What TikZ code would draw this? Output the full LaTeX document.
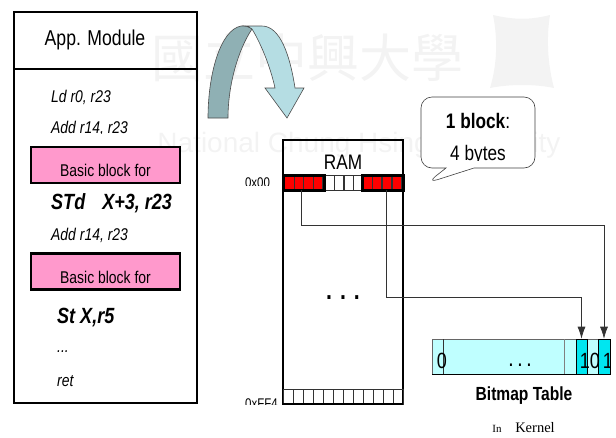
\documentclass[tikz,border=0pt]{standalone}
\usepackage{fontspec}
\setmainfont[FakeStretch=0.82]{Liberation Sans}
\newfontfamily\cjk{Noto Sans CJK TC}
\newfontfamily\markfont{Liberation Sans}
\newfontfamily\kernelfont{Liberation Serif}
\usetikzlibrary{shapes.callouts, arrows.meta, positioning, calc}

\definecolor{pinkfill}{HTML}{FF99CC}
\definecolor{bitfill}{HTML}{BFFFFF}
\definecolor{bitcell}{HTML}{00E6F0}
\definecolor{turnlight}{HTML}{B5DDE3}
\definecolor{turndark}{HTML}{8FB0B4}
\definecolor{marktext}{HTML}{F3F3F3}

\begin{document}
\begin{tikzpicture}
  [
  x=1pt, y=-1pt,
  % boxes
  block/.style = {rectangle,
    draw, line width=1.8pt,
    inner sep=0pt},
  pinkblock/.style = {block, fill=pinkfill, line width=2.2pt,
    minimum width=149pt, minimum height=36pt},
  % ram and bitmap cells
  cell/.style = {rectangle,
    draw=black!80, line width=0.6pt, inner sep=0pt,
    minimum width=9.75pt, minimum height=15pt},
  bitcell/.style = {rectangle,
    draw, line width=0.6pt, fill=bitcell, inner sep=0pt,
    minimum height=35pt},
  % text
  code/.style = {anchor=west, inner sep=0pt, font=\fontsize{17}{19}\selectfont\itshape},
  boldcode/.style = {code, font=\fontsize{22}{24}\selectfont\itshape\bfseries},
  pinktext/.style = {inner sep=0pt, font=\fontsize{17}{19}\selectfont},
  bubbletext/.style = {inner sep=0pt, font=\fontsize{21}{23}\selectfont},
  digit/.style = {inner sep=0pt, font=\fontsize{22}{24}\selectfont},
  % line
  line/.style = {draw, line width=0.7pt, draw=black!80,
    -{Latex[length=12pt,width=8pt]}},
  ]
  \useasboundingbox (0,0) rectangle (616,437);

  % watermark
  \node [inner sep=0pt, text=marktext, font=\fontsize{52}{52}\cjk] (markname) at (307,58) {國立中興大學};
  \node [inner sep=0pt, text=marktext, font=\fontsize{28}{30}\markfont] (markeng) at (359,145) {National Chung Hsing University};
  \fill [marktext] (493,15) .. controls (515,20) and (530,20) .. (550,15)
    .. controls (546,40) and (548,65) .. (554,88)
    .. controls (535,84) and (510,84) .. (490,88)
    .. controls (497,65) and (498,40) .. (493,15) -- cycle;

  % module
  \node [block, minimum width=183pt, minimum height=391pt] (module) at (105.5,207.5) {};
  \draw [line width=1.8pt] (14,69) -- (197,69);
  \node [inner sep=0pt, font=\fontsize{21.5}{24}\selectfont] (modname) at (95,40) {App. Module};
  \node [code] (ld) at (51,97) {Ld r0, r23};
  \begin{scope}
    \clip (0,0) rectangle (616,133.5);
    \node [code] (addone) at (51,128) {Add r14, r23};
  \end{scope}
  \node [pinkblock] (pinkone) at (105.5,165) {};
  \node [pinktext] (pinkonetext) at (105.5,170) {Basic block for};
  \node [boldcode] (std) at (51,203) {STd\hspace{12pt} X+3, r23};
  \node [code] (addtwo) at (51,235) {Add r14, r23};
  \node [pinkblock] (pinktwo) at (105.5,271.5) {};
  \node [pinktext] (pinktwotext) at (105.5,277) {Basic block for};
  \node [boldcode] (st) at (57,318) {St X,r5};
  \node [code] (dots) at (57,352) {...};
  \node [code] (ret) at (57,381) {ret};

  % turning arrow
  \filldraw [fill=turndark, draw=black!70, line width=0.6pt] (208,118) -- (228,118)
    .. controls (228,85) and (238,50) .. (252,29)
    .. controls (248,26) and (245,26) .. (241,26)
    .. controls (220,30) and (208,75) .. (208,118) -- cycle;
  \filldraw [fill=turnlight, draw=black!70, line width=0.6pt] (252,29)
    .. controls (260,42) and (270,65) .. (275,88) -- (265,88) -- (287,118) -- (304,88) -- (295,88)
    .. controls (290,55) and (280,26) .. (262,26) -- (245,26)
    .. controls (247,26) and (250,27) .. (252,29) -- cycle;

  % ram
  \node [block, minimum width=120pt, minimum height=264pt] (ram) at (343,272) {};
  \node [inner sep=0pt, font=\fontsize{21}{23}\selectfont] (ramname) at (343,162) {RAM};
  \foreach \i in {1,...,4} {
    \node [cell, fill=red] (l\i) at ({289.4+(\i-1)*9.5},182.5) {};
    \node [cell] (m\i) at ({329.6+(\i-1)*9.5},182.5) {};
    \node [cell, fill=red] (r\i) at ({367+(\i-1)*9.9},182.5) {};
  }
  \draw [line width=3pt] (283,175) rectangle (324,190);
  \draw [line width=3pt] (362,175) rectangle (403,190);
  \foreach \i in {1,...,12} {
    \node [cell, minimum width=10pt] (e\i) at ({288+(\i-1)*10},396.5) {};
  }
  \draw [line width=1.8pt] (283,404) -- (403,404);
  \node [anchor=base, inner sep=0pt, font=\fontsize{26}{28}\selectfont\bfseries] (ramdots) at (343,299) {. . .};
  \begin{scope}
    \clip (0,0) rectangle (616,185);
    \node [anchor=base, inner sep=0pt, font=\fontsize{14}{16}\selectfont] (first) at (257.5,187) {0x00};
  \end{scope}
  \begin{scope}
    \clip (0,0) rectangle (616,404);
    \node [anchor=base, inner sep=0pt, font=\fontsize{14}{16}\selectfont] (last) at (261.5,408) {0xFF4};
  \end{scope}

  % callout
  \node [rectangle callout, draw=black!75, line width=0.6pt, rounded corners=11pt, fill=white,
    minimum width=114pt, minimum height=71pt, inner sep=0pt,
    callout absolute pointer={(427,183)}, callout pointer width=28pt] (bubble) at (478,132.5) {};
  \node [bubbletext] (blocksize) at (478,121) {\textbf{1 block}:};
  \begin{scope}
    \clip (0,0) rectangle (616,160.5);
    \node [bubbletext] (bytes) at (478,155) {4 bytes};
  \end{scope}

  % bitmap
  \node [rectangle, draw=black!60, line width=0.6pt, fill=bitfill, inner sep=0pt,
    minimum width=178pt, minimum height=35pt] (bitmap) at (521,356.5) {};
  \draw [line width=0.7pt, draw=black!80] (443,339) -- (443,374);
  \draw [line width=0.9pt, draw=black!50] (564,339) -- (564,374);
  \draw [line width=0.7pt] (432,374) -- (610,374);
  \node [bitcell, minimum width=11pt] (bitone) at (581.5,356.5) {};
  \node [bitcell, minimum width=12pt] (bittwo) at (604,356.5) {};
  \node [digit] (zeroa) at (442,360.5) {0};
  \node [inner sep=0pt, font=\fontsize{17}{19}\selectfont\bfseries] (bitdots) at (520,365) {. . .};
  \node [digit] (onea) at (585,361) {1};
  \node [digit] (zerob) at (595,361) {0};
  \begin{scope}
    \clip (0,0) rectangle (610,437);
    \node [digit] (oneb) at (608,361) {1};
  \end{scope}
  \node [inner sep=0pt, font=\fontsize{19}{21}\selectfont\bfseries] (bitname) at (524,396) {Bitmap Table};
  \node [inner sep=0pt, font=\fontsize{11}{13}\selectfont\kernelfont] (inword) at (497,429) {In};
  \node [inner sep=0pt, font=\fontsize{14.5}{16}\selectfont\kernelfont] (kernel) at (535,428) {Kernel};

  % path
  \path [line] ([xshift=2pt]l2.south) -- ++(0,35) -| (bittwo.north);
  \path [line] (r3.south) -- ++(0,107) -| (bitone.north);

\end{tikzpicture}
\end{document}
